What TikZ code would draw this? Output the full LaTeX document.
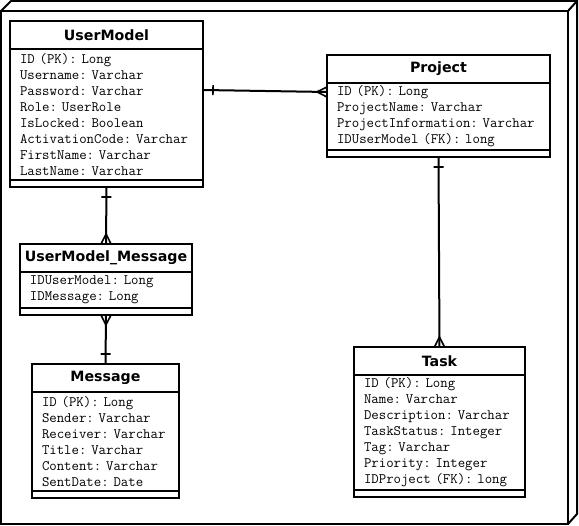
\documentclass[tikz,border=0pt]{standalone}
\usepackage{fontspec}
\setsansfont{DejaVu Sans}
\usepackage{tikz}
\usetikzlibrary{positioning,decorations.markings}
\frenchspacing
\tikzstyle{frame}=[line width=2pt, line join=miter]
\tikzstyle{classtitle}=[draw, line width=2pt, anchor=north west, outer sep=0pt, inner sep=0pt, minimum height=28pt, font=\sffamily\bfseries\fontsize{14.2}{16}\selectfont]
\tikzstyle{classattr}=[draw, line width=2pt, outer sep=0pt, inner xsep=10pt, inner ysep=0pt, align=left, font=\ttfamily\fontsize{14.4}{16}\selectfont]
\tikzstyle{classend}=[draw, line width=2pt, outer sep=0pt, inner sep=0pt, minimum height=7pt]
\tikzstyle{relation}=[line width=2pt]
\tikzstyle{onefrom}=[postaction={decorate, decoration={markings, mark=at position 10pt with {\draw[line width=1.6pt] (0pt,-5pt) -- (0pt,5pt);}}}]
\tikzstyle{oneto}=[postaction={decorate, decoration={markings, mark=at position -10pt with {\draw[line width=1.6pt] (0pt,-5pt) -- (0pt,5pt);}}}]
\tikzstyle{manyfrom}=[postaction={decorate, decoration={markings, mark=at position 10pt with {\draw[line width=1.6pt] (-10pt,5pt) -- (0pt,0pt) -- (-10pt,-5pt);}}}]
\tikzstyle{manyto}=[postaction={decorate, decoration={markings, mark=at position -10pt with {\draw[line width=1.6pt] (10pt,5pt) -- (0pt,0pt) -- (10pt,-5pt);}}}]

\begin{document}
\begin{tikzpicture}[x=1pt, y=-1pt]
	\useasboundingbox (0,0) rectangle (579,526);
	% package frame
	\draw[frame] (1,11) rectangle (568,524);
	\draw[frame] (1,11) -- (11,1) -- (577,1) -- (577,514) -- (568,524);
	\draw[frame] (568,11) -- (577,1);

	% UserModel
	\node[classtitle, minimum width=193pt] (um) at (10,21) {UserModel};
	\node[classattr, text width=173pt, minimum height=131pt, below=0pt of um] (umattr) {
		ID (PK): Long\\
		Username: Varchar\\
		Password: Varchar\\
		Role: UserRole\\
		IsLocked: Boolean\\
		ActivationCode: Varchar\\
		FirstName: Varchar\\
		LastName: Varchar};
	\node[classend, minimum width=193pt, below=0pt of umattr] (umend) {};

	% Project
	\node[classtitle, minimum width=223pt] (pr) at (327,55) {Project};
	\node[classattr, text width=203pt, minimum height=67pt, below=0pt of pr] (prattr) {
		ID (PK): Long\\
		ProjectName: Varchar\\
		ProjectInformation: Varchar\\
		IDUserModel (FK): long};
	\node[classend, minimum width=223pt, below=0pt of prattr] (prend) {};

	% UserModel_Message
	\node[classtitle, minimum width=172pt] (umm) at (20,244) {UserModel\_Message};
	\node[classattr, text width=152pt, minimum height=36pt, below=0pt of umm] (ummattr) {
		IDUserModel: Long\\
		IDMessage: Long};
	\node[classend, minimum width=172pt, below=0pt of ummattr] (ummend) {};

	% Message
	\node[classtitle, minimum width=147pt] (msg) at (32,364) {Message};
	\node[classattr, text width=127pt, minimum height=99pt, below=0pt of msg] (msgattr) {
		ID (PK): Long\\
		Sender: Varchar\\
		Receiver: Varchar\\
		Title: Varchar\\
		Content: Varchar\\
		SentDate: Date};
	\node[classend, minimum width=147pt, below=0pt of msgattr] (msgend) {};

	% Task
	\node[classtitle, minimum width=171pt] (task) at (354,347) {Task};
	\node[classattr, text width=151pt, minimum height=115pt, below=0pt of task] (taskattr) {
		ID (PK): Long\\
		Name: Varchar\\
		Description: Varchar\\
		TaskStatus: Integer\\
		Tag: Varchar\\
		Priority: Integer\\
		IDProject (FK): long};
	\node[classend, minimum width=171pt, below=0pt of taskattr] (taskend) {};

	% relations
	\draw[relation, onefrom, manyto] ([yshift=-41pt]umattr.north east) -- ([yshift=-9pt]prattr.north west);
	\draw[relation, onefrom, manyto] (umend.south) -- (umm.north);
	\draw[relation, manyfrom, oneto] (ummend.south) -- (msg.north);
	\draw[relation, onefrom, manyto] (prend.south) -- (task.north);
\end{tikzpicture}
\end{document}
